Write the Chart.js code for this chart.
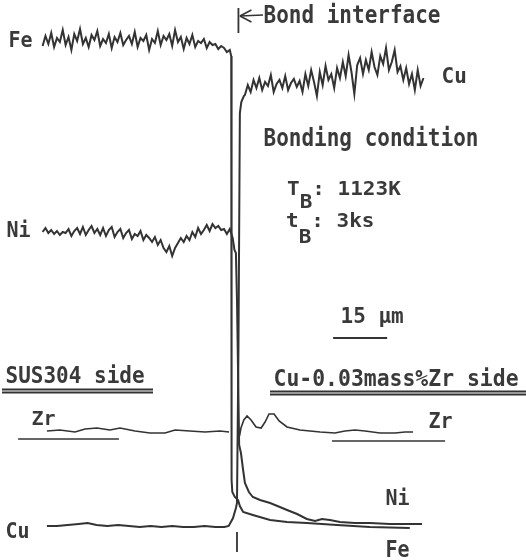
<!DOCTYPE html>
<html>
<head>
<meta charset="utf-8">
<script src="https://cdn.jsdelivr.net/npm/chart.js@4.4.1/dist/chart.umd.min.js"></script>
<style>
  html, body { margin: 0; padding: 0; background: #fff; }
  #wrap { width: 526px; height: 560px; }
</style>
</head>
<body>
<div id="wrap"><canvas id="chartLine"></canvas></div>
<script>
// EPMA line scan across the bond, x in um from the interface, y = intensity (arb.)
const scanStart = -54.0;
const scanStep = 0.8;
const cuScanStart = 2.2;

const feLeft = [514, 524, 516, 527, 513, 522, 518, 530, 515, 523, 510, 526, 519, 531, 516, 522,
    513, 525, 520, 529, 514, 521, 517, 526, 512, 523, 518, 527, 515, 520, 524, 516, 528, 513,
    522, 519, 525, 510, 521, 517, 529, 515, 524, 520, 526, 514, 530, 518, 523, 511, 522, 516,
    525, 513, 519, 517, 521, 512, 518, 515, 516, 511, 514, 512, 508];
const feTail = [[-2.0, 510], [-1.6, 504], [-1.5, 80], [-1.3, 68], [-0.6, 63], [0.3, 60], [0.8, 54],
    [1.7, 48], [4.4, 45], [9.2, 40], [13.9, 38], [19.4, 37], [27.8, 35], [36.9, 33], [48.0, 32]];

const niLeft = [328, 332, 327, 330, 326, 329, 325, 328, 327, 331, 324, 329, 332, 326, 333, 325,
    330, 334, 327, 331, 325, 332, 324, 330, 333, 323, 328, 331, 322, 327, 330, 321, 326, 324,
    329, 320, 325, 322, 318, 323, 315, 320, 312, 308, 314, 304, 312, 317, 322, 318, 324, 320,
    328, 323, 332, 326, 330, 335, 329, 336, 332, 334, 330, 331, 326];
const niTail = [[-2.0, 331], [-1.2, 322], [-0.7, 310], [-0.3, 307], [0.0, 260], [0.6, 115], [1.1, 107],
    [1.7, 90], [2.2, 77], [3.3, 68], [4.4, 63], [6.4, 60], [9.2, 57], [11.9, 53], [13.9, 50],
    [16.7, 46], [19.4, 41], [21.7, 39], [23.6, 41], [25.8, 40], [28.6, 38], [32.8, 37], [36.9, 37],
    [42.5, 36], [46.7, 36], [51.4, 36]];

const cuLeft = [[-52.8, 34], [-50, 34], [-47, 35], [-44, 36], [-41.5, 37], [-39, 35], [-36, 34],
    [-33, 35], [-30, 34], [-27, 33], [-24, 34], [-21, 33], [-18, 34], [-15, 33], [-12, 33],
    [-9, 34], [-6, 33], [-3.5, 33], [-2.3, 34], [-1.1, 42], [-0.3, 52], [0.0, 57], [0.4, 210],
    [0.8, 447], [1.2, 458], [1.9, 464]];
const cuRight = [465, 475, 468, 480, 472, 482, 470, 478, 474, 485, 468, 476, 480, 472, 484, 470,
    477, 481, 473, 479, 468, 486, 474, 490, 478, 464, 488, 475, 494, 480, 486, 472, 492, 482,
    498, 484, 505, 488, 466, 495, 502, 486, 500, 490, 508, 493, 485, 504, 496, 512, 490, 498,
    510, 488, 494, 480, 492, 476, 486, 470, 490, 474, 482];

const zrLeft = [[-52.8, 129], [-49.2, 130], [-45, 128], [-42.2, 131], [-38.9, 132], [-35.3, 130],
    [-32.5, 132], [-28.3, 129], [-24.2, 127], [-20, 127], [-17.2, 130], [-13.1, 129], [-8.9, 128],
    [-4.7, 129], [-2.2, 128]];
const zrRight = [[0.7, 124], [1.1, 132], [1.9, 140], [2.8, 144], [3.9, 140], [5.3, 133], [6.7, 132],
    [7.8, 138], [8.9, 146], [10.3, 146], [11.7, 139], [13.9, 133], [17.5, 130], [23.1, 128],
    [27.2, 127], [30, 129], [32.8, 130], [35.6, 129], [39.7, 127], [43.9, 127], [46.7, 128], [48.9, 128]];
const zrZeroLeft = [[-60.8, 121], [-32.8, 121]];
const zrZeroRight = [[26.4, 119], [57.8, 119]];

const scaleBarUm = 15;
const ink = "#333";

const pts = (arr) => arr.map(([x, y]) => ({ x, y }));
const grid = (arr, x0) => arr.map((y, i) => ({ x: x0 + i * scanStep, y }));

function trace(data, width) {
    return {
        data: data,
        borderColor: ink,
        borderWidth: width,
        pointRadius: 0,
        tension: 0,
        fill: false,
        spanGaps: false,
    };
}

function txt(ctx, s, x, y, size, sy, sx) {
    ctx.save();
    ctx.translate(x, y);
    ctx.scale(sx || 1, sy);
    ctx.font = 'bold ' + size + 'px "DejaVu Sans Mono"';
    ctx.fillText(s, 0, 0);
    ctx.restore();
}

function line(ctx, x1, y1, x2, y2, w) {
    ctx.lineWidth = w;
    ctx.beginPath();
    ctx.moveTo(x1, y1);
    ctx.lineTo(x2, y2);
    ctx.stroke();
}

const notes = {
    id: "notes",
    afterDatasetsDraw(chart) {
        const ctx = chart.ctx;
        const xs = chart.scales.x;
        ctx.save();
        ctx.fillStyle = "#3a3a3a";
        ctx.strokeStyle = ink;
        ctx.lineCap = "butt";

        // interface markers and arrow
        const xi = xs.getPixelForValue(0.4);
        line(ctx, xi, 8, xi, 33, 1.8);
        line(ctx, xs.getPixelForValue(0), 532, xs.getPixelForValue(0), 552, 1.8);
        line(ctx, xi + 1.5, 16, 263, 15, 1.5);
        line(ctx, xi + 1.5, 16, xi + 13, 10, 1.5);
        line(ctx, xi + 1.5, 16, xi + 13, 22, 1.5);
        txt(ctx, "Bond interface", 263.5, 23, 21, 1.18);

        txt(ctx, "Fe", 8.5, 47, 20, 1.08);
        txt(ctx, "Cu", 441.5, 83, 21, 1.0);
        txt(ctx, "Ni", 6.5, 237, 20, 1.05);

        txt(ctx, "Bonding condition", 263.5, 146, 21, 1.18);
        const cw = 12.64;
        txt(ctx, "T", 287, 195, 21, 0.95);
        txt(ctx, "B", 287 + cw, 208, 21, 0.9);
        txt(ctx, ": 1123K", 287 + 2 * cw, 195, 21, 0.95);
        txt(ctx, "t", 286, 227, 21, 0.95);
        txt(ctx, "B", 286 + cw, 243, 21, 0.9);
        txt(ctx, ": 3ks", 286 + 2 * cw, 227, 21, 0.95);

        // scale bar
        txt(ctx, "15 μm", 340.5, 323, 21, 1.05);
        const b0 = xs.getPixelForValue(26.7);
        line(ctx, b0, 338, xs.getPixelForValue(26.7 + scaleBarUm), 338, 1.8);

        txt(ctx, "SUS304 side", 5.5, 383, 21, 1.08);
        line(ctx, 2, 389.5, 153, 389.5, 2);
        line(ctx, 2, 392.5, 153, 392.5, 2);
        txt(ctx, "Cu-0.03mass%Zr side", 273.5, 386, 21, 1.12, 1.02);
        line(ctx, 270, 391.5, 526, 391.5, 2);
        line(ctx, 270, 394.5, 526, 394.5, 2);

        txt(ctx, "Zr", 31.5, 425, 20, 1.0);
        txt(ctx, "Zr", 428.5, 428, 20, 1.05);
        txt(ctx, "Ni", 385.5, 505, 20, 1.05);
        txt(ctx, "Fe", 385.5, 557, 20, 1.12);
        txt(ctx, "Cu", 5.5, 538, 20, 1.1);
        ctx.restore();
    },
};

const config = {
    type: "line",
    data: {
        datasets: [
            trace(grid(feLeft, scanStart).concat(pts(feTail)), 2.0),
            trace(grid(niLeft, scanStart).concat(pts(niTail)), 2.0),
            trace(pts(cuLeft).concat(grid(cuRight, cuScanStart)), 2.0),
            trace(pts(zrLeft).concat([{ x: -1, y: null }], pts(zrRight)), 1.6),
            trace(pts(zrZeroLeft), 1.6),
            trace(pts(zrZeroRight), 1.6),
        ],
    },
    options: {
        responsive: true,
        maintainAspectRatio: false,
        devicePixelRatio: 1,
        animation: false,
        layout: { padding: 0 },
        plugins: { legend: { display: false }, tooltip: { enabled: false } },
        scales: {
            x: { type: "linear", min: -65.83, max: 80.28, display: false },
            y: { min: 0, max: 560, display: false },
        },
    },
    plugins: [notes],
};

new Chart(document.getElementById("chartLine"), config);
</script>
</body>
</html>
